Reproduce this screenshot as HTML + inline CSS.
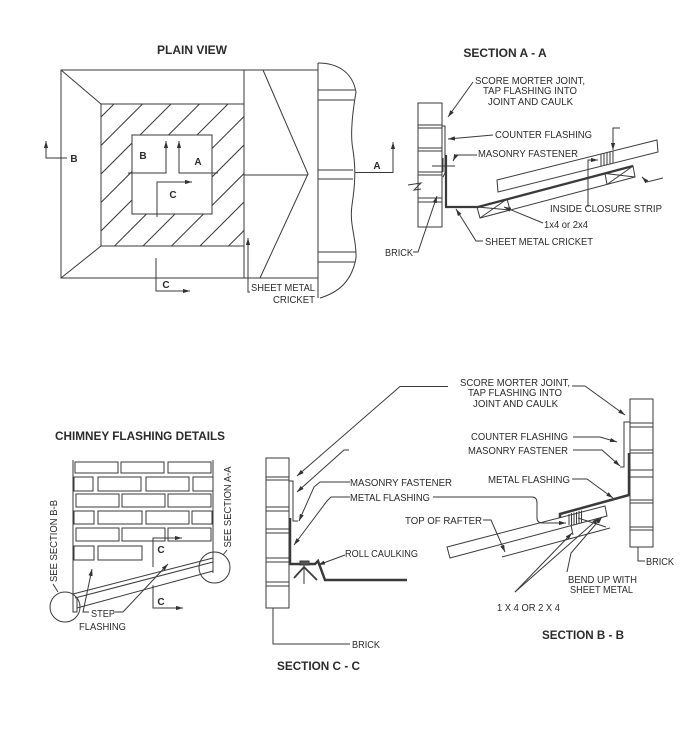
<!DOCTYPE html>
<html><head><meta charset="utf-8"><style>
html,body{margin:0;padding:0;background:#fff;}
svg{display:block;}
text{font-family:"Liberation Sans",Arial,sans-serif;fill:#2b2b2b;}
.t{font-size:10px;}
.b{font-size:12px;font-weight:bold;}
.m{font-size:10px;font-weight:bold;}
</style></head><body>
<svg width="700" height="736" viewBox="0 0 700 736" xmlns="http://www.w3.org/2000/svg">
<defs>
<marker id="a" viewBox="0 0 10 6" refX="10" refY="3" markerWidth="7" markerHeight="4.2" orient="auto" markerUnits="userSpaceOnUse"><path d="M0,0 L10,3 L0,6 z" fill="#333"/></marker>
<clipPath id="hc"><path clip-rule="evenodd" d="M101,104H244V246H101Z M132,135H212V214H132Z"/></clipPath>
</defs>
<rect width="700" height="736" fill="#fff"/>
<g fill="none" stroke="#3a3a3a" stroke-width="1">
<!-- PLAIN VIEW -->
<path d="M318,70H61V278H318"/>
<path d="M244,70V278"/>
<rect x="101" y="104" width="143" height="142"/>
<path d="M61,70L101,104M61,278L101,246"/>
<rect x="132" y="135" width="80" height="79"/>
<path d="M263,70L308,174L260,278M244,175H308"/>
<g clip-path="url(#hc)">
<path d="M-42,260L128,90M-13.5,260L156.5,90M15,260L185,90M43.5,260L213.5,90M72,260L242,90M100.5,260L270.5,90M129,260L299,90M157.5,260L327.5,90M186,260L356,90M214.5,260L384.5,90"/>
</g>
<path d="M318,63V298"/>
<path d="M318,63C335,63 352,70 356,92C352,115 350,135 353,150C356,170 355,185 352,205C349,225 357,240 356,258C352,280 340,292 320,298"/>
<path d="M318,90H355M318,100H354M318,170H353M318,179H353M318,252H356M318,262H355"/>
<path d="M355,172.5H393V142" marker-end="url(#a)"/>
<path d="M67,158H46V141" marker-end="url(#a)"/>
<path d="M128,173H166V141" marker-end="url(#a)"/>
<path d="M218,173H179V141" marker-end="url(#a)"/>
<path d="M157,217V182H192" marker-end="url(#a)"/>
<path d="M156,258V291H190" marker-end="url(#a)"/>
<path d="M250,292H248V238" marker-end="url(#a)"/>

<!-- SECTION A-A -->
<rect x="418" y="103" width="24" height="124"/>
<path d="M418,125H442M418,128H442M418,148H442M418,151H442M418,172H442M418,175H442M418,198H442M418,202H442"/>
<path d="M408,185L421,183L414,190L421,189"/>
<path d="M473,82L448,117" marker-end="url(#a)"/>
<path d="M442,126H445V173L443,177"/>
<path d="M493,135L448,139" marker-end="url(#a)"/>
<path d="M477,155H456L453,161" marker-end="url(#a)"/>
<path d="M432,166H455M443,158V172"/>
<path d="M446,155V207H478L633,166" stroke-width="2.2"/>
<path d="M477,207L633,166L635,177L480,218Z"/>
<path d="M507,199L510,210M605,173.5L607,184.5M477,207L510,210M507,199L480,218M605,173.5L635,177M633,166L607,184.5"/>
<path d="M497,180L657,140L658,152L498,192Z"/>
<path d="M601,154V166M604,153V165M607,152.5V164.5M610,152V164M613,151V163"/>
<path d="M620,128H613V150" marker-end="url(#a)"/>
<path d="M588,207V160H598" marker-end="url(#a)"/>
<path d="M663,178L647,182L642,177" marker-end="url(#a)"/>
<path d="M543,223L504,207" marker-end="url(#a)"/>
<path d="M483,241H476L456,209" marker-end="url(#a)"/>
<path d="M413,252H418L437,196" marker-end="url(#a)"/>

<!-- CHIMNEY FLASHING DETAILS -->
<path d="M73,460V612H77V598"/>
<path d="M213,460V573"/>
<rect x="75" y="462" width="43" height="11"/><rect x="121" y="462" width="43" height="11"/><rect x="168" y="462" width="43" height="11"/>
<rect x="74" y="477" width="19" height="14"/><rect x="98" y="477" width="43" height="14"/><rect x="146" y="477" width="43" height="14"/><rect x="193" y="477" width="20" height="14"/>
<rect x="76" y="494" width="43" height="13"/><rect x="122" y="494" width="43" height="13"/><rect x="168" y="494" width="43" height="13"/>
<rect x="74" y="511" width="20" height="13"/><rect x="98" y="511" width="44" height="13"/><rect x="146" y="511" width="43" height="13"/><rect x="192" y="511" width="20" height="13"/>
<rect x="76" y="528" width="43" height="13"/><rect x="122" y="528" width="43" height="13"/><rect x="168" y="528" width="43" height="13"/>
<rect x="74" y="546" width="20" height="14"/><rect x="98" y="546" width="44" height="14"/>
<path d="M73,594L213,558M75,598L213,562M77,608L213,571"/>
<circle cx="65" cy="607" r="15"/>
<circle cx="214.5" cy="567.5" r="15.5"/>
<path d="M53,584L58,592M227,550L223,555"/>
<path d="M153,567V538H182" marker-end="url(#a)"/>
<path d="M153,585V608H183" marker-end="url(#a)"/>
<path d="M89,612H83L92,569" marker-end="url(#a)"/>
<path d="M115,612H123L168,564" marker-end="url(#a)"/>

<!-- SECTION C-C -->
<rect x="266" y="458" width="23" height="150"/>
<path d="M266,477H289M266,480H289M266,507H289M266,511H289M266,529H289M266,533H289M266,558H289M266,562H289M266,582H289M266,586H289"/>
<path d="M448,386.5H400L297,476" marker-end="url(#a)"/>
<path d="M349,450H344L297,492" marker-end="url(#a)"/>
<path d="M289,481H293V521H298"/>
<path d="M290,518V564H315L318,561L325,580H407" stroke-width="2.5"/>
<path d="M294,578L304,567L317,580" stroke-width="1.8"/>
<path d="M304,561V584"/>
<rect x="300" y="561" width="9" height="4" fill="#555"/>
<path d="M350,482H320L314,487L299,521" marker-end="url(#a)"/>
<path d="M350,497H331L327,501L294,545" marker-end="url(#a)"/>
<path d="M433,497H532Q537,497 537,503V518Q537,523 543,523H566" marker-end="url(#a)"/>
<path d="M345,555L318,565" marker-end="url(#a)"/>
<path d="M350,644H273V608"/>

<!-- SECTION B-B -->
<rect x="630" y="399" width="23" height="148"/>
<path d="M630,423H653M630,427H653M630,450H653M630,453H653M630,470H653M630,477H653M630,500H653M630,503H653M630,527H653M630,530H653"/>
<path d="M572,386H585L625,415" marker-end="url(#a)"/>
<path d="M630,422H624V467H620"/>
<path d="M573,437H600L617,442" marker-end="url(#a)"/>
<path d="M573,450H602L620,466" marker-end="url(#a)"/>
<path d="M572,479H587L613,498" marker-end="url(#a)"/>
<path d="M629,453V495L560,514V518" stroke-width="2.5"/>
<path d="M447,547L605,506L607,516L450,558Z"/>
<path d="M569,514V525M571.5,513V525M574,512.5V524.5M576.5,512V524M579,511V523M581.5,510.5V522.5"/>
<path d="M502,557L610,528"/>
<path d="M571,525L573,535M578,518L606,527"/>
<path d="M515,592L572,533" marker-end="url(#a)"/>
<path d="M515,592L599,518" marker-end="url(#a)"/>
<path d="M567,572L571,553L602,517" marker-end="url(#a)"/>
<path d="M483,520H491L505,552" marker-end="url(#a)"/>
<path d="M645,561H638V547"/>
</g>

<!-- TEXT -->
<text class="b" x="192" y="54" text-anchor="middle">PLAIN VIEW</text>
<text class="m" x="74" y="162" text-anchor="middle">B</text>
<text class="m" x="143" y="159" text-anchor="middle">B</text>
<text class="m" x="198" y="165" text-anchor="middle">A</text>
<text class="m" x="173" y="198" text-anchor="middle">C</text>
<text class="m" x="166" y="288" text-anchor="middle">C</text>
<text class="t" x="251" y="291" textLength="64" lengthAdjust="spacingAndGlyphs">SHEET METAL</text>
<text class="t" x="273" y="303" textLength="42" lengthAdjust="spacingAndGlyphs">CRICKET</text>

<text class="b" x="505" y="57" text-anchor="middle">SECTION A - A</text>
<text class="m" x="377" y="169" text-anchor="middle">A</text>
<text class="t" x="475" y="84" textLength="110" lengthAdjust="spacingAndGlyphs">SCORE MORTER JOINT,</text>
<text class="t" x="483" y="94" textLength="94" lengthAdjust="spacingAndGlyphs">TAP FLASHING INTO</text>
<text class="t" x="488" y="105" textLength="85" lengthAdjust="spacingAndGlyphs">JOINT AND CAULK</text>
<text class="t" x="495" y="138" textLength="97" lengthAdjust="spacingAndGlyphs">COUNTER FLASHING</text>
<text class="t" x="478" y="157" textLength="100" lengthAdjust="spacingAndGlyphs">MASONRY FASTENER</text>
<text class="t" x="550" y="212" textLength="112" lengthAdjust="spacingAndGlyphs">INSIDE CLOSURE STRIP</text>
<text class="t" x="544" y="228" textLength="44" lengthAdjust="spacingAndGlyphs">1x4 or 2x4</text>
<text class="t" x="485" y="245" textLength="108" lengthAdjust="spacingAndGlyphs">SHEET METAL CRICKET</text>
<text class="t" x="385" y="256" textLength="28" lengthAdjust="spacingAndGlyphs">BRICK</text>

<text class="b" x="55" y="440" textLength="170" lengthAdjust="spacingAndGlyphs">CHIMNEY FLASHING DETAILS</text>
<text class="t" transform="translate(57,541) rotate(-90)" text-anchor="middle" textLength="82" lengthAdjust="spacingAndGlyphs">SEE SECTION B-B</text>
<text class="t" transform="translate(231,507) rotate(-90)" text-anchor="middle" textLength="81" lengthAdjust="spacingAndGlyphs">SEE SECTION A-A</text>
<text class="m" x="161" y="553" text-anchor="middle">C</text>
<text class="m" x="161" y="605" text-anchor="middle">C</text>
<text class="t" x="91" y="617" textLength="24" lengthAdjust="spacingAndGlyphs">STEP</text>
<text class="t" x="79" y="630" textLength="47" lengthAdjust="spacingAndGlyphs">FLASHING</text>

<text class="t" x="350" y="486" textLength="102" lengthAdjust="spacingAndGlyphs">MASONRY FASTENER</text>
<text class="t" x="350" y="501" textLength="80" lengthAdjust="spacingAndGlyphs">METAL FLASHING</text>
<text class="t" x="345" y="557" textLength="73" lengthAdjust="spacingAndGlyphs">ROLL CAULKING</text>
<text class="t" x="352" y="648" textLength="28" lengthAdjust="spacingAndGlyphs">BRICK</text>
<text class="b" x="277" y="670" textLength="83" lengthAdjust="spacingAndGlyphs">SECTION C - C</text>
<text class="t" x="405" y="524" textLength="77" lengthAdjust="spacingAndGlyphs">TOP OF RAFTER</text>

<text class="t" x="460" y="386" textLength="110" lengthAdjust="spacingAndGlyphs">SCORE MORTER JOINT,</text>
<text class="t" x="468" y="396" textLength="94" lengthAdjust="spacingAndGlyphs">TAP FLASHING INTO</text>
<text class="t" x="473" y="407" textLength="85" lengthAdjust="spacingAndGlyphs">JOINT AND CAULK</text>
<text class="t" x="471" y="440" textLength="97" lengthAdjust="spacingAndGlyphs">COUNTER FLASHING</text>
<text class="t" x="468" y="454" textLength="100" lengthAdjust="spacingAndGlyphs">MASONRY FASTENER</text>
<text class="t" x="488" y="483" textLength="82" lengthAdjust="spacingAndGlyphs">METAL FLASHING</text>
<text class="t" x="646" y="565" textLength="28" lengthAdjust="spacingAndGlyphs">BRICK</text>
<text class="t" x="568" y="583" textLength="69" lengthAdjust="spacingAndGlyphs">BEND UP WITH</text>
<text class="t" x="570" y="593" textLength="63" lengthAdjust="spacingAndGlyphs">SHEET METAL</text>
<text class="t" x="497" y="611" textLength="63" lengthAdjust="spacingAndGlyphs">1 X 4 OR 2 X 4</text>
<text class="b" x="542" y="639" textLength="82" lengthAdjust="spacingAndGlyphs">SECTION B - B</text>
</svg>
</body></html>
